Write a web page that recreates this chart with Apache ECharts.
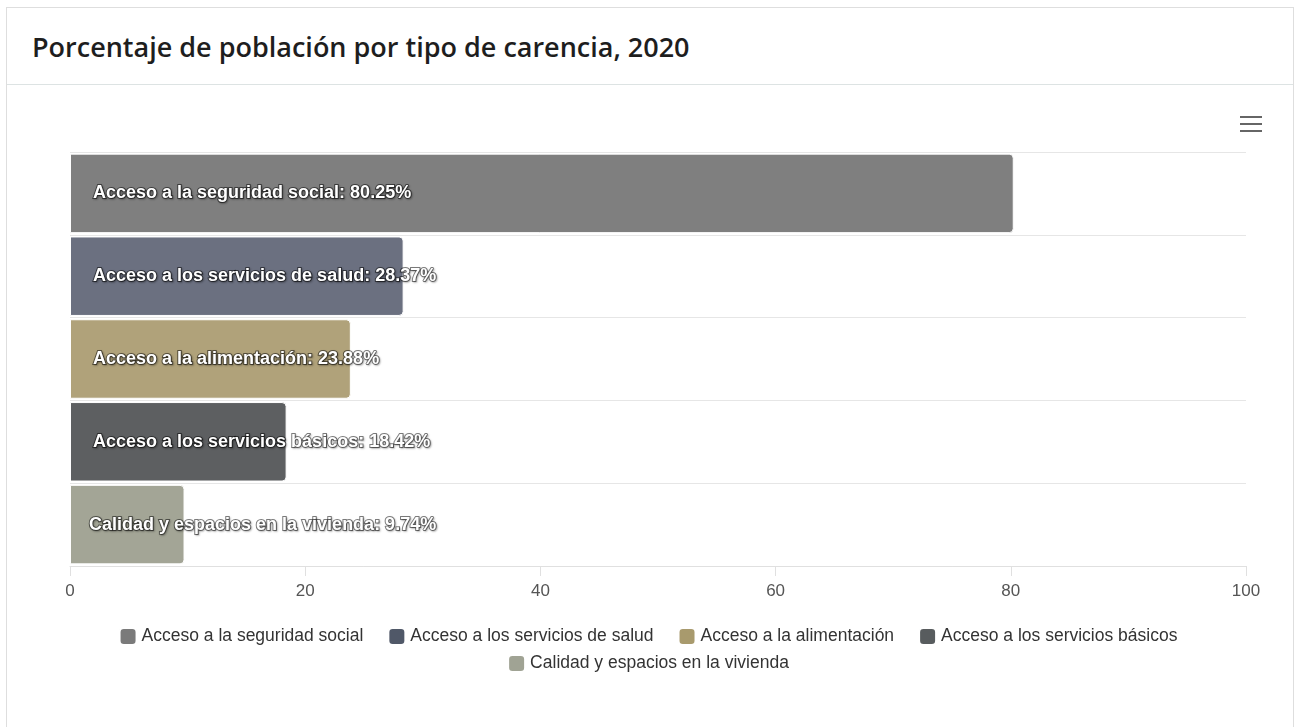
<!DOCTYPE html>
<html>
<head>
<meta charset="utf-8">
<script src="https://cdn.jsdelivr.net/npm/echarts@6/dist/echarts.min.js"></script>
<style>
  html, body { margin: 0; padding: 0; background: #fff; }
  .card {
    position: absolute; left: 6px; top: 7px; width: 1288px; height: 740px;
    border: 1px solid #dedede; box-sizing: border-box;
  }
  .card .head {
    height: 76px; border-bottom: 1px solid #dde3e3;
    font-family: "Open Sans", sans-serif; font-size: 27px; font-weight: 600; color: #1e1e1e;
    line-height: 78px; padding-left: 25px;
  }
  #chart { position: absolute; left: 0; top: 0; width: 1296px; height: 727px; }
</style>
</head>
<body>
<div class="card"><div class="head">Porcentaje de población por tipo de carencia, 2020</div></div>
<div id="chart"></div>
<script>
  // categorias y valores (porcentaje de poblacion, 2020)
  var categories = [
    "Acceso a la seguridad social",
    "Acceso a los servicios de salud",
    "Acceso a la alimentación",
    "Acceso a los servicios básicos",
    "Calidad y espacios en la vivienda"
  ];
  var values = [80.25, 28.37, 23.88, 18.42, 9.74];
  var barColors = ["#7f7f7f", "#6b7080", "#b0a27a", "#5d5f61", "#a3a596"];
  var legendColors = ["#7a7a7a", "#505868", "#a89a6d", "#585c5e", "#a0a394"];
  var xTicks = [0, 20, 40, 60, 80, 100];

  var chart = echarts.init(document.getElementById("chart"));

  // una serie por categoria, apiladas para que cada barra ocupe su banda completa
  var series = categories.map(function (name, i) {
    var data = categories.map(function (c, j) { return j === i ? values[i] : "-"; });
    return {
      name: name,
      type: "bar",
      stack: "all",
      barCategoryGap: "4%",
      data: data,
      itemStyle: {
        color: barColors[i],
        borderColor: "#fff",
        borderWidth: 1,
        borderRadius: [0, 4, 4, 0]
      },
      label: {
        show: true,
        position: "insideLeft",
        distance: i === 4 ? 19 : 23,
        color: "#fff",
        fontFamily: "Arial, 'Liberation Sans', sans-serif",
        fontWeight: "bold",
        fontSize: 18,
        textBorderColor: "rgba(0,0,0,0.5)",
        textBorderWidth: 2,
        textShadowColor: "rgba(0,0,0,0.35)",
        textShadowBlur: 2,
        textShadowOffsetX: 1,
        textShadowOffsetY: 1,
        formatter: function (p) { return p.seriesName + ": " + p.value.toFixed(2) + "%"; }
      },
      emphasis: { disabled: true }
    };
  });

  var legendText = { fontFamily: "Arial, 'Liberation Sans', sans-serif", fontSize: 17.5, color: "#333" };

  var option = {
    animation: false,
    grid: { left: 70, right: 50, top: 152, bottom: 161 },
    xAxis: {
      type: "value",
      min: xTicks[0],
      max: xTicks[xTicks.length - 1],
      interval: 20,
      axisLine: { show: true, lineStyle: { color: "#e0e0e0", width: 1 } },
      axisTick: { show: true, length: 10, lineStyle: { color: "#e0e0e0" } },
      axisLabel: { margin: 17, color: "#555", fontSize: 17, fontFamily: "Arial, 'Liberation Sans', sans-serif" },
      splitLine: { show: false }
    },
    yAxis: {
      type: "category",
      inverse: true,
      data: categories,
      axisLine: { show: false },
      axisTick: { show: false },
      axisLabel: { show: false },
      splitLine: { show: true, lineStyle: { color: "#e6e6e6", width: 1 } }
    },
    legend: [
      {
        top: 622, left: "center",
        itemWidth: 17, itemHeight: 17, itemGap: 24, icon: "roundRect",
        textStyle: legendText,
        selectedMode: false,
        data: categories.slice(0, 4).map(function (n, i) { return { name: n, itemStyle: { color: legendColors[i] } }; })
      },
      {
        top: 649, left: "center",
        itemWidth: 17, itemHeight: 17, icon: "roundRect",
        textStyle: legendText,
        selectedMode: false,
        data: [{ name: categories[4], itemStyle: { color: legendColors[4] } }]
      }
    ],
    graphic: [
      { type: "rect", left: 1240, top: 116, shape: { width: 22, height: 2 }, style: { fill: "#666" } },
      { type: "rect", left: 1240, top: 123, shape: { width: 22, height: 2 }, style: { fill: "#666" } },
      { type: "rect", left: 1240, top: 130, shape: { width: 22, height: 2 }, style: { fill: "#666" } }
    ],
    series: series
  };

  chart.setOption(option);
</script>
</body>
</html>
